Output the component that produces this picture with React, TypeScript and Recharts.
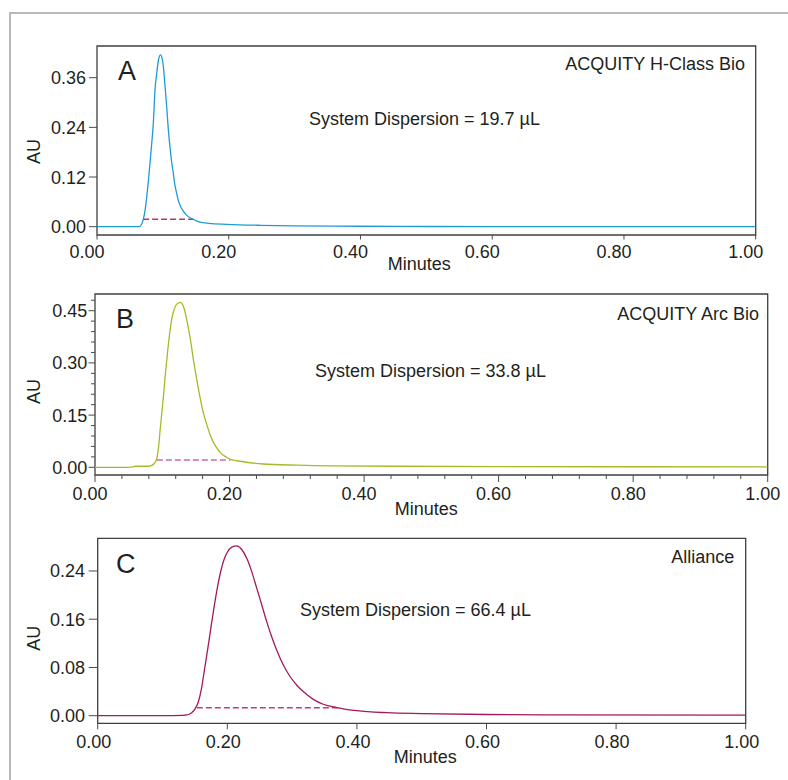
import React from 'react';
import { LineChart, Line, XAxis, YAxis, ReferenceArea } from 'recharts';

const FONT = '"Liberation Sans", Arial, Helvetica, sans-serif';
const TEXT = '#231f20';

// ---------- Panel A : ACQUITY H-Class Bio ----------
const minutesA = [0, 0.05, 0.064, 0.067, 0.07, 0.073, 0.0755, 0.078, 0.08, 0.083, 0.0855, 0.088, 0.0906, 0.0935, 0.0965, 0.099, 0.1007, 0.103, 0.1058, 0.108, 0.1108, 0.113, 0.1159, 0.118, 0.1209, 0.123, 0.126, 0.13, 0.136, 0.146, 0.156, 0.17, 0.197, 0.247, 0.3, 0.4, 0.5, 0.7, 1.0];
const auA = [0, 0, 0, 0.004, 0.016, 0.04, 0.072, 0.11, 0.145, 0.2, 0.25, 0.33, 0.37, 0.404, 0.415, 0.405, 0.388, 0.345, 0.29, 0.24, 0.193, 0.16, 0.129, 0.103, 0.081, 0.066, 0.052, 0.04, 0.028, 0.018, 0.011, 0.008, 0.0058, 0.0034, 0.002, 0.001, 0.0005, 0.0003, 0.0002];
const dashMinutesA = [0.07, 0.146];
const dashLevelA = 0.018;

// ---------- Panel B : ACQUITY Arc Bio ----------
const minutesB = [0, 0.05, 0.056, 0.06, 0.07, 0.08, 0.084, 0.088, 0.09, 0.092, 0.0945, 0.0968, 0.099, 0.1017, 0.104, 0.1067, 0.109, 0.1117, 0.114, 0.1166, 0.1216, 0.1266, 0.1315, 0.1365, 0.1415, 0.1464, 0.1514, 0.1564, 0.1613, 0.1663, 0.1713, 0.1762, 0.1812, 0.1862, 0.1961, 0.201, 0.221, 0.25, 0.3, 0.35, 0.45, 0.6, 1.0];
const auB = [0, 0, 0.001, 0.003, 0.003, 0.003, 0.005, 0.011, 0.016, 0.026, 0.058, 0.107, 0.15, 0.203, 0.255, 0.308, 0.352, 0.395, 0.425, 0.447, 0.469, 0.474, 0.462, 0.423, 0.371, 0.308, 0.251, 0.198, 0.155, 0.122, 0.093, 0.071, 0.055, 0.042, 0.028, 0.023, 0.016, 0.0095, 0.006, 0.004, 0.003, 0.002, 0.0015];
const dashMinutesB = [0.092, 0.201];
const dashLevelB = 0.021;

// ---------- Panel C : Alliance ----------
const minutesC = [0, 0.1, 0.13, 0.135, 0.14, 0.145, 0.15, 0.155, 0.16, 0.165, 0.17, 0.175, 0.18, 0.185, 0.19, 0.195, 0.2, 0.207, 0.2145, 0.222, 0.23, 0.2377, 0.2454, 0.2531, 0.2608, 0.2685, 0.2762, 0.2865, 0.2968, 0.307, 0.3173, 0.3327, 0.348, 0.369, 0.4, 0.446, 0.5, 0.6, 0.7, 1.0];
const auC = [0, 0, 0.0005, 0.001, 0.002, 0.005, 0.011, 0.022, 0.044, 0.078, 0.112, 0.148, 0.183, 0.214, 0.24, 0.259, 0.271, 0.2795, 0.2817, 0.276, 0.261, 0.239, 0.2115, 0.184, 0.156, 0.131, 0.109, 0.084, 0.065, 0.051, 0.04, 0.027, 0.019, 0.0135, 0.0083, 0.005, 0.0035, 0.002, 0.0015, 0.001];
const dashMinutesC = [0.153, 0.374];
const dashLevelC = 0.0133;

// ---------- Ticks & labels ----------
const xTicks = [0, 0.2, 0.4, 0.6, 0.8, 1.0];
const xMinorTicksB = [0.04, 0.08, 0.12, 0.16, 0.24, 0.28, 0.32, 0.36, 0.44, 0.48, 0.52, 0.56, 0.64, 0.68, 0.72, 0.76, 0.84, 0.88, 0.92, 0.96];
const yTicksA = [0, 0.12, 0.24, 0.36];
const yTicksB = [0, 0.15, 0.3, 0.45];
const yMinorTicksB = [0.03, 0.06, 0.09, 0.12, 0.18, 0.21, 0.24, 0.27, 0.33, 0.36, 0.39, 0.42, 0.48];
const yTicksC = [0, 0.08, 0.16, 0.24];

const panelLetters = ['A', 'B', 'C'];
const systemNames = ['ACQUITY H-Class Bio', 'ACQUITY Arc Bio', 'Alliance'];
const dispersionLabels = ['System Dispersion = 19.7 µL', 'System Dispersion = 33.8 µL', 'System Dispersion = 66.4 µL'];
const xAxisTitle = 'Minutes';
const yAxisTitle = 'AU';

const toRows = (ts: number[], vs: number[]) => ts.map((t, i) => ({ t, v: vs[i] }));
const dashRows = (ts: number[], level: number) => ts.map((t) => ({ t, v: level }));

const isMajor = (v: number, majors: number[]) => majors.some((m) => Math.abs(m - v) < 1e-9);

type Panel = {
  rows: { t: number; v: number }[];
  dash: { t: number; v: number }[];
  color: string;
  dashColor: string;
  yMajor: number[];
  yMinor: number[];
  xMinor: number[];
  yDomain: [number, number];
  top: number;
  height: number;
  mt: number;
  mr: number;
  yw: number;
  xh: number;
  yMajorLen: number;
  yMinorLen: number;
  yLabelGap: number;
  xMajorLen: number;
  xMinorLen: number;
  xLabelGap: number;
  xLabelShift: number;
  minutesDx: number;
  minutesDy: number;
  auX: number;
  auDy: number;
  letter: { x: number; y: number };
  name: { x: number; y: number };
  disp: { x: number; y: number };
};

const panels: Panel[] = [
  {
    rows: toRows(minutesA, auA), dash: dashRows(dashMinutesA, dashLevelA),
    color: '#1d9bd8', dashColor: '#b03a6e',
    yMajor: yTicksA, yMinor: [], xMinor: [], yDomain: [-0.0201, 0.4366],
    top: 0, height: 280, mt: 46, mr: 32.3, yw: 97, xh: 45,
    yMajorLen: 8, yMinorLen: 4, yLabelGap: 11,
    xMajorLen: 4.5, xMinorLen: 3, xLabelGap: 10, xLabelShift: -10,
    minutesDx: -7, minutesDy: 35, auX: 40, auDy: 11,
    letter: { x: 118, y: 80 }, name: { x: 745, y: 70 }, disp: { x: 309, y: 125 },
  },
  {
    rows: toRows(minutesB, auB), dash: dashRows(dashMinutesB, dashLevelB),
    color: '#a9b827', dashColor: '#d06aa2',
    yMajor: yTicksB, yMinor: yMinorTicksB, xMinor: xMinorTicksB, yDomain: [-0.0221, 0.498],
    top: 280, height: 240, mt: 14, mr: 20.3, yw: 95, xh: 45,
    yMajorLen: 6.5, yMinorLen: 4, yLabelGap: 7.7,
    xMajorLen: 7, xMinorLen: 4, xLabelGap: 12, xLabelShift: -5,
    minutesDx: -5, minutesDy: 40, auX: 39.5, auDy: 7,
    letter: { x: 116, y: 328 }, name: { x: 759, y: 320 }, disp: { x: 315, y: 376.7 },
  },
  {
    rows: toRows(minutesC, auC), dash: dashRows(dashMinutesC, dashLevelC),
    color: '#a3195b', dashColor: '#c23a82',
    yMajor: yTicksC, yMinor: [], xMinor: [], yDomain: [-0.0126, 0.2942],
    top: 520, height: 260, mt: 18.3, mr: 42.3, yw: 97.7, xh: 56.7,
    yMajorLen: 9, yMinorLen: 4, yLabelGap: 12.7,
    xMajorLen: 6, xMinorLen: 3, xLabelGap: 11.7, xLabelShift: -4,
    minutesDx: 3.6, minutesDy: 39.4, auX: 40, auDy: 7.5,
    letter: { x: 116, y: 573 }, name: { x: 734.3, y: 563.3 }, disp: { x: 300, y: 615.7 },
  },
];

const textStyle = { fontFamily: FONT, fill: TEXT };

function PanelChart({ p }: { p: Panel }) {
  const yTickValues = [...p.yMajor, ...p.yMinor].sort((a, b) => a - b);
  const xTickValues = [...xTicks, ...p.xMinor].sort((a, b) => a - b);

  const YTick = (props: any) => {
    const { x, y, payload } = props;
    const v = payload.value as number;
    const major = isMajor(v, p.yMajor);
    const len = major ? p.yMajorLen : p.yMinorLen;
    return (
      <g>
        <line x1={x - len} x2={x} y1={y} y2={y} stroke="#4a4a4a" strokeWidth={1} />
        {major && (
          <text x={x - p.yLabelGap} y={y} dy="0.36em" textAnchor="end" fontSize={18} style={textStyle}>
            {v.toFixed(2)}
          </text>
        )}
      </g>
    );
  };

  const XTick = (props: any) => {
    const { x, y, payload } = props;
    const v = payload.value as number;
    const major = isMajor(v, xTicks);
    const len = major ? p.xMajorLen : p.xMinorLen;
    return (
      <g>
        <line x1={x} x2={x} y1={y} y2={y + len} stroke="#4a4a4a" strokeWidth={1} />
        {major && (
          <text x={x + p.xLabelShift} y={y + p.xLabelGap} dy="0.71em" textAnchor="middle" fontSize={18} style={textStyle}>
            {v.toFixed(2)}
          </text>
        )}
      </g>
    );
  };

  const MinutesLabel = (props: any) => {
    const vb = props.viewBox || {};
    return (
      <text x={vb.x + vb.width / 2 + p.minutesDx} y={vb.y + p.minutesDy} textAnchor="middle" fontSize={18} style={textStyle}>
        {xAxisTitle}
      </text>
    );
  };

  const AULabel = (props: any) => {
    const vb = props.viewBox || {};
    const cy = vb.y + vb.height / 2 + p.auDy;
    return (
      <text x={p.auX} y={cy} transform={`rotate(-90, ${p.auX}, ${cy})`} textAnchor="middle" fontSize={18} style={textStyle}>
        {yAxisTitle}
      </text>
    );
  };

  return (
    <div style={{ position: 'absolute', left: 0, top: p.top, width: 788, height: p.height }}>
      <LineChart width={788} height={p.height} data={p.rows} margin={{ top: p.mt, right: p.mr, left: 0, bottom: 0 }}>
        <XAxis
          type="number"
          dataKey="t"
          domain={[0, 1]}
          allowDataOverflow
          ticks={xTickValues}
          interval={0}
          tickSize={0}
          tickMargin={0}
          tickLine={false}
          axisLine={false}
          tick={XTick}
          height={p.xh}
          label={{ content: MinutesLabel }}
        />
        <YAxis
          type="number"
          domain={p.yDomain}
          allowDataOverflow
          ticks={yTickValues}
          interval={0}
          tickSize={0}
          tickMargin={0}
          tickLine={false}
          axisLine={false}
          tick={YTick}
          width={p.yw}
          label={{ content: AULabel }}
        />
        <ReferenceArea x1={0} x2={1} y1={p.yDomain[0]} y2={p.yDomain[1]} fill="none" fillOpacity={0} stroke="#3f3f3f" strokeWidth={1.3} ifOverflow="visible" />
        <Line data={p.dash} dataKey="v" type="linear" stroke={p.dashColor} strokeWidth={1.5} strokeDasharray="6 3" dot={false} activeDot={false} isAnimationActive={false} />
        <Line dataKey="v" type="monotone" stroke={p.color} strokeWidth={1.3} dot={false} activeDot={false} isAnimationActive={false} />
      </LineChart>
    </div>
  );
}

export default function App() {
  return (
    <div style={{ position: 'absolute', left: 0, top: 0, width: 788, height: 780, background: '#fff', overflow: 'hidden' }}>
      <div
        style={{
          position: 'absolute',
          left: 9,
          top: 12,
          width: 779,
          height: 768,
          boxSizing: 'border-box',
          borderTop: '2px solid #b9b9b9',
          borderLeft: '2px solid #b9b9b9',
        }}
      />
      {panels.map((p, i) => (
        <PanelChart key={i} p={p} />
      ))}
      <svg width={788} height={780} style={{ position: 'absolute', left: 0, top: 0, pointerEvents: 'none' }}>
        {panels.map((p, i) => (
          <g key={i}>
            <text x={p.letter.x} y={p.letter.y} fontSize={27} style={textStyle}>
              {panelLetters[i]}
            </text>
            <text x={p.name.x} y={p.name.y} fontSize={18} textAnchor="end" style={textStyle}>
              {systemNames[i]}
            </text>
            <text x={p.disp.x} y={p.disp.y} fontSize={18} style={textStyle}>
              {dispersionLabels[i]}
            </text>
          </g>
        ))}
      </svg>
    </div>
  );
}
